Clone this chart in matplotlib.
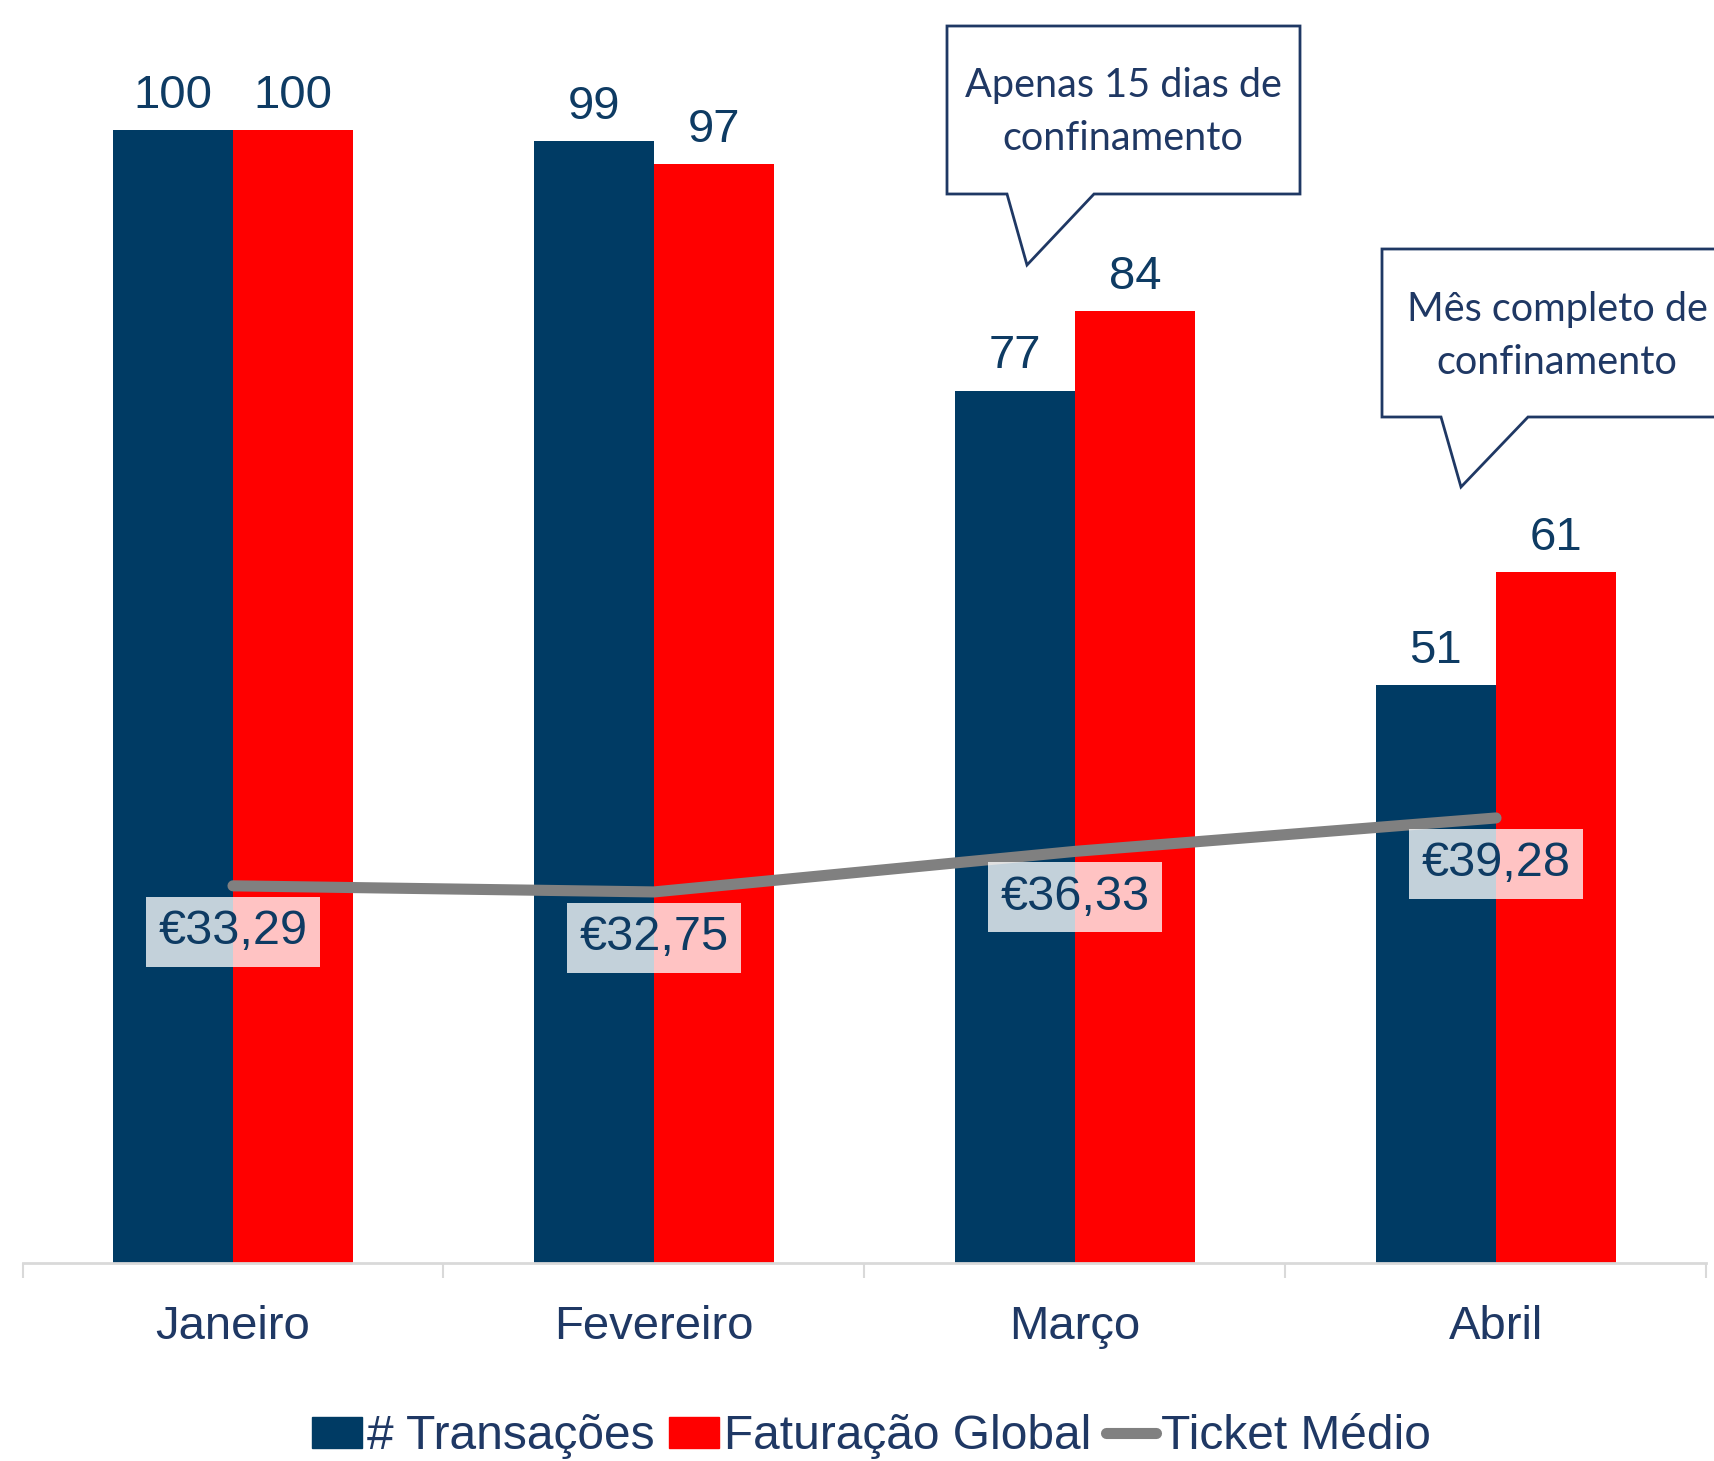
import matplotlib
matplotlib.use('Agg')
import matplotlib.pyplot as plt
from matplotlib.patches import Polygon, Patch
from matplotlib.lines import Line2D
import numpy as np

# data
meses = ['Janeiro', 'Fevereiro', 'Março', 'Abril']
transacoes = [100, 99, 77, 51]
faturacao = [100, 97, 84, 61]
ticket = [33.29, 32.75, 36.33, 39.28]
ticket_labels = ['€33,29', '€32,75', '€36,33', '€39,28']
callouts = ['Apenas 15 dias de\nconfinamento', 'Mês completo de\nconfinamento']

BLUE = '#003B64'
RED = '#FF0000'
GREY = '#808080'
NAVY = '#1F3864'
TXT = '#0E3B63'

W, H = 1715, 1461
plt.rcParams['font.family'] = ['Liberation Sans', 'DejaVu Sans']

fig = plt.figure(figsize=(W / 100, H / 100), dpi=100)
ax = fig.add_axes([22.5 / W, (H - 1263) / H, (1706.5 - 22.5) / W, 1263 / H])
ax2 = ax.twinx()

x = np.arange(len(meses))
bw = 0.286
ymax = 1263 / 11.33

ax.bar(x - bw / 2, transacoes, bw, color=BLUE, zorder=2)
ax.bar(x + bw / 2, faturacao, bw, color=RED, zorder=2)
for xi, v in zip(x, transacoes):
    ax.annotate(str(v), (xi - bw / 2, v), xytext=(0, 16), textcoords='offset points',
                ha='center', va='baseline', fontsize=34, color=TXT)
for xi, v in zip(x, faturacao):
    ax.annotate(str(v), (xi + bw / 2, v), xytext=(0, 16), textcoords='offset points',
                ha='center', va='baseline', fontsize=34, color=TXT)

ax.set_xlim(-0.5, 3.5)
ax.set_ylim(0, ymax)
ax2.set_ylim(0, ymax)
ax2.set_zorder(ax.get_zorder() + 1)
ax2.patch.set_visible(False)

ax2.plot(x, ticket, color=GREY, lw=8, solid_capstyle='round', zorder=3)
for xi, v, lab in zip(x, ticket, ticket_labels):
    ax2.annotate(lab, (xi, v), xytext=(0, -33), textcoords='offset points',
                 ha='center', va='center', fontsize=35, color=TXT,
                 bbox=dict(boxstyle='square,pad=0.26', fc='white', ec='none', alpha=0.77))

for a in (ax, ax2):
    for s in ['top', 'right', 'left']:
        a.spines[s].set_visible(False)
    a.set_yticks([])
ax2.spines['bottom'].set_visible(False)
ax.spines['bottom'].set_color('#D9D9D9')
ax.spines['bottom'].set_linewidth(2)

ax.set_xticks(x)
ax.set_xticklabels(meses, fontsize=34, color=NAVY)
ax.tick_params(axis='x', which='major', length=0, pad=30)
ax.set_xticks(np.arange(-0.5, 4, 1), minor=True)
ax.tick_params(axis='x', which='minor', length=11, width=1.5, color='#D9D9D9')

# callouts
def px(pts):
    return [(p[0] / W, 1 - p[1] / H) for p in pts]

shape1 = [(947, 26), (1300, 26), (1300, 194), (1094, 194), (1027, 265), (1007, 194), (947, 194)]
shape2 = [(1382, 249), (1735, 249), (1735, 417), (1528, 417), (1461, 487), (1441, 417), (1382, 417)]
for shp, txt, cx, cy in [(shape1, callouts[0], 1123, 112), (shape2, callouts[1], 1557, 336)]:
    fig.add_artist(Polygon(px(shp), closed=True, fc='white', ec=NAVY, lw=2,
                           transform=fig.transFigure, clip_on=False))
    fig.text(cx / W, 1 - cy / H, txt, ha='center', va='center', fontsize=28.5,
             color=NAVY, family=['Lato', 'DejaVu Sans'], linespacing=1.5)

handles = [Patch(color=BLUE), Patch(color=RED),
           Line2D([], [], color=GREY, lw=8, solid_capstyle='round')]
leg = fig.legend(handles, ['# Transações', 'Faturação Global', 'Ticket Médio'],
                 loc='center', bbox_to_anchor=(0.508, 0.0165), ncol=3, frameon=False,
                 fontsize=34.5, handlelength=1.05, handleheight=0.6, handletextpad=0.1,
                 columnspacing=0.3, borderpad=0)
for t in leg.get_texts():
    t.set_color(NAVY)

fig.savefig('out.png', dpi=100)
